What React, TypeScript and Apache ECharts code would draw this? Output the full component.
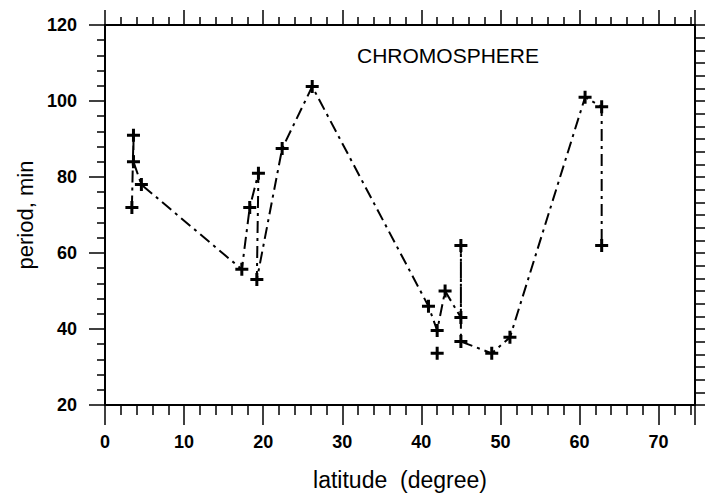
import React, { useEffect, useRef } from "react";
import * as echarts from "echarts";

const latitude = [3.4, 3.6, 3.6, 4.6, 17.3, 18.3, 19.4, 19.2, 22.4, 26.2, 40.9, 42.0, 43.0, 45.0, 45.0, 45.0, 48.9, 51.2, 60.7, 62.8, 62.8];
const period = [72, 91, 84, 78, 55.7, 72, 81, 53, 87.5, 103.8, 46, 39.6, 50, 43, 62, 36.7, 33.6, 37.8, 101, 98.5, 62];
const loneLatitude = [42.0];
const lonePeriod = [33.6];

const xMin = 0;
const xMax = 74.6;
const xInterval = 10;
const yMin = 20;
const yMax = 120;
const yInterval = 20;

const titleText = "CHROMOSPHERE";
const xName = "latitude  (degree)";
const yName = "period, min";

const PLUS = "path://M5,0H8V5H13V8H8V13H5V8H0V5H5Z";
const tickFont = "'Liberation Sans Narrow', 'Arial Narrow', 'Liberation Sans', Arial, sans-serif";
const textFont = "'Liberation Sans', Arial, sans-serif";

export default function App() {
  const ref = useRef<HTMLDivElement>(null);
  useEffect(() => {
    if (!ref.current) return;
    const chart = echarts.init(ref.current, null, { renderer: "svg" });
    const axisLine = { show: true, onZero: false, lineStyle: { color: "#000", width: 2 } };
    const main = latitude.map((x, i) => [x, period[i]]);
    const lone = loneLatitude.map((x, i) => [x, lonePeriod[i]]);
    chart.setOption({
      animation: false,
      backgroundColor: "#fff",
      title: {
        text: titleText,
        left: 357,
        top: 45,
        padding: 0,
        textStyle: { fontFamily: textFont, fontSize: 21, fontWeight: "normal", color: "#000" },
      },
      grid: { left: 105, top: 25, width: 590, height: 380 },
      xAxis: [
        {
          type: "value",
          min: xMin,
          max: xMax,
          interval: xInterval,
          position: "bottom",
          axisLine,
          splitLine: { show: false },
          axisTick: { show: true, length: 20, lineStyle: { color: "#000", width: 1.5 } },
          minorTick: { show: true, splitNumber: 5, length: 10, lineStyle: { color: "#000", width: 1.5 } },
          axisLabel: {
            margin: 28,
            fontFamily: tickFont,
            fontSize: 18,
            fontWeight: "bold",
            color: "#000",
            showMaxLabel: false,
          },
          name: xName,
          nameLocation: "middle",
          nameGap: 63,
          nameTextStyle: { fontFamily: textFont, fontSize: 23, color: "#000" },
        },
        {
          type: "value",
          min: xMin,
          max: xMax,
          interval: xInterval,
          position: "top",
          axisLine,
          splitLine: { show: false },
          axisTick: { show: true, length: 15, lineStyle: { color: "#000", width: 1.5 } },
          minorTick: { show: true, splitNumber: 5, length: 8, lineStyle: { color: "#000", width: 1.5 } },
          axisLabel: { show: false },
        },
      ],
      yAxis: [
        {
          type: "value",
          min: yMin,
          max: yMax,
          interval: yInterval,
          position: "left",
          axisLine,
          splitLine: { show: false },
          axisTick: { show: true, length: 16, lineStyle: { color: "#000", width: 1.5 } },
          minorTick: { show: true, splitNumber: 5, length: 8, lineStyle: { color: "#000", width: 1.5 } },
          axisLabel: { margin: 28, fontFamily: tickFont, fontSize: 18, fontWeight: "bold", color: "#000" },
          name: yName,
          nameLocation: "middle",
          nameGap: 55,
          nameTextStyle: { fontFamily: textFont, fontSize: 22, color: "#000" },
        },
        {
          type: "value",
          min: yMin,
          max: yMax,
          interval: yInterval,
          position: "right",
          axisLine,
          splitLine: { show: false },
          axisTick: { show: true, length: 10, lineStyle: { color: "#000", width: 1.5 } },
          minorTick: { show: true, splitNumber: 6, length: 10, lineStyle: { color: "#000", width: 1.5 } },
          axisLabel: { show: false },
        },
      ],
      series: [
        {
          type: "line",
          data: main,
          xAxisIndex: 0,
          yAxisIndex: 0,
          symbol: PLUS,
          symbolSize: 13,
          showAllSymbol: true,
          itemStyle: { color: "#000", opacity: 1 },
          lineStyle: { color: "#000", width: 2, type: [12, 5, 3, 5] },
        },
        {
          type: "scatter",
          data: lone,
          xAxisIndex: 0,
          yAxisIndex: 0,
          symbol: PLUS,
          symbolSize: 13,
          itemStyle: { color: "#000", opacity: 1 },
        },
      ],
    });
    return () => chart.dispose();
  }, []);
  return (
    <div
      ref={ref}
      style={{ position: "fixed", left: 0, top: 0, width: 706, height: 500, background: "#fff" }}
    />
  );
}
